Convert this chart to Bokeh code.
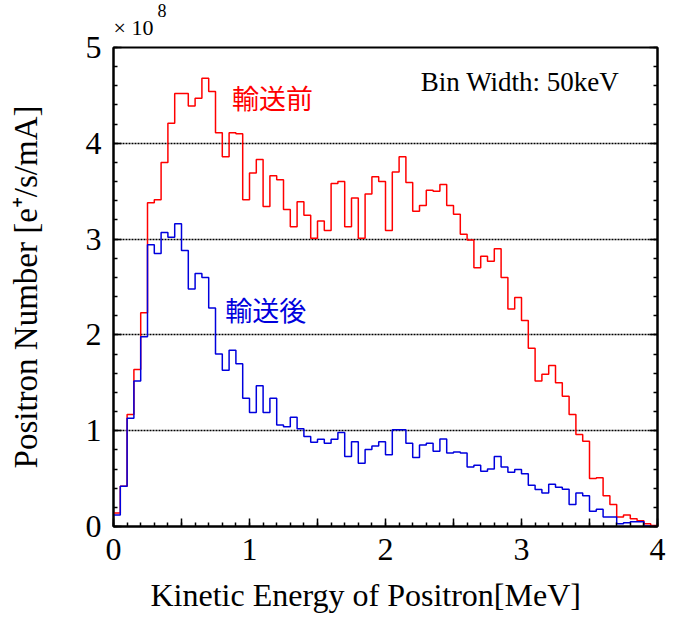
import numpy as np
from bokeh.plotting import figure
from bokeh.models import Range1d, FixedTicker, LinearAxis, Label, Title, CustomJSTickFormatter
from bokeh.embed import file_html
from bokeh.resources import INLINE

BIN_WIDTH = 0.05  # MeV

before_transport = [
    0.14, 0.42, 1.17, 1.64, 2.23, 3.38, 3.41, 3.80, 4.21, 4.52,
    4.52, 4.39, 4.47, 4.68, 4.54, 4.11, 3.86, 4.11, 4.10, 3.41,
    3.69, 3.83, 3.34, 3.66, 3.62, 3.31, 3.13, 3.39, 3.25, 3.01,
    3.19, 3.09, 3.58, 3.60, 3.13, 3.43, 3.01, 3.47, 3.65, 3.60,
    3.09, 3.70, 3.86, 3.59, 3.29, 3.35, 3.51, 3.50, 3.57, 3.35,
    3.26, 3.05, 2.99, 2.70, 2.82, 2.77, 2.90, 2.60, 2.27, 2.39,
    2.15, 1.86, 1.52, 1.59, 1.68, 1.50, 1.36, 1.17, 0.96, 0.89,
    0.50, 0.51, 0.32, 0.23, 0.10, 0.12, 0.08, 0.06, 0.03, 0.01,
]

after_transport = [
    0.12, 0.42, 1.13, 1.52, 1.98, 2.94, 2.85, 3.07, 3.02, 3.16,
    2.88, 2.48, 2.64, 2.60, 2.28, 1.80, 1.63, 1.84, 1.70, 1.34,
    1.19, 1.47, 1.19, 1.34, 1.06, 1.04, 1.14, 1.02, 0.94, 0.88,
    0.91, 0.87, 0.91, 0.98, 0.73, 0.885, 0.66, 0.805, 0.84, 0.885,
    0.75, 1.01, 1.01, 0.87, 0.72, 0.85, 0.87, 0.785, 0.913, 0.767,
    0.778, 0.767, 0.62, 0.64, 0.576, 0.60, 0.73, 0.62, 0.566, 0.594,
    0.55, 0.43, 0.385, 0.35, 0.44, 0.41, 0.39, 0.23, 0.35, 0.32,
    0.16, 0.18, 0.10, 0.10, 0.03, 0.04, 0.05, 0.05, 0.005, 0.0,
]

x_major_ticks = [0, 0.5, 1, 1.5, 2, 2.5, 3, 3.5, 4]
y_major_ticks = [0, 1, 2, 3, 4, 5]

SERIF = "Liberation Serif"
CJK = "Noto Sans CJK JP"

p = figure(width=673, height=626, output_backend="svg", toolbar_location=None,
           x_range=Range1d(0, 4), y_range=Range1d(0, 5),
           min_border_left=113, min_border_right=16, min_border_top=47, min_border_bottom=100,
           background_fill_color="white", border_fill_color="white")

p.outline_line_color = "black"
p.outline_line_width = 2

x_minor = [round(0.1 * i, 2) for i in range(41)]
y_minor = [round(0.2 * i, 2) for i in range(26)]

p.xaxis.ticker = FixedTicker(ticks=x_major_ticks, minor_ticks=x_minor)
p.xaxis.formatter = CustomJSTickFormatter(code="return (Math.abs(tick - Math.round(tick)) < 1e-6) ? Math.round(tick).toString() : '';")
p.yaxis.ticker = FixedTicker(ticks=y_major_ticks, minor_ticks=y_minor)

for ax in (p.xaxis, p.yaxis):
    ax.axis_line_width = 2
    ax.axis_line_color = "black"
    ax.major_tick_in = 8
    ax.major_tick_out = 0
    ax.minor_tick_in = 4
    ax.minor_tick_out = 0
    ax.major_tick_line_width = 1.5
    ax.minor_tick_line_width = 1.5
    ax.major_label_text_font = SERIF
    ax.major_label_text_font_size = "32px"
    ax.major_label_text_color = "black"
    ax.axis_label_text_font = SERIF
    ax.axis_label_text_font_style = "normal"
    ax.axis_label_text_color = "black"

p.xaxis.major_label_standoff = 12

p.yaxis.major_label_standoff = 12
p.yaxis.axis_label = "Positron Number [e\u207a/s/mA]"
p.yaxis.axis_label_text_font_size = "33px"
p.yaxis.axis_label_standoff = 39

right = LinearAxis(ticker=FixedTicker(ticks=y_major_ticks, minor_ticks=y_minor),
                   formatter=CustomJSTickFormatter(code="return '';"))
right.axis_line_width = 2
right.major_tick_in = 8
right.major_tick_out = 0
right.minor_tick_in = 4
right.minor_tick_out = 0
right.major_tick_line_width = 1.5
right.minor_tick_line_width = 1.5
right.major_label_standoff = 0
p.add_layout(right, "right")

p.xgrid.visible = False
p.ygrid.ticker = FixedTicker(ticks=[1, 2, 3, 4])
p.ygrid.grid_line_color = "black"
p.ygrid.grid_line_dash = "2 1"
p.ygrid.grid_line_width = 1.5

edges = np.arange(len(before_transport) + 1) * BIN_WIDTH
red_y = before_transport + [before_transport[-1]]
blue_y = after_transport + [after_transport[-1]]

p.step(x=edges, y=red_y, mode="after", line_color="#ff0000", line_width=1.5)
p.step(x=edges, y=blue_y, mode="after", line_color="#0000dd", line_width=1.5)

p.add_layout(Label(x=1.17, y=4.48, text="輸送前", text_font=CJK, text_font_size="27px",
                   text_color="#ff0000", text_align="center", text_baseline="middle"))
p.add_layout(Label(x=1.12, y=2.26, text="輸送後", text_font=CJK, text_font_size="27px",
                   text_color="#0000dd", text_align="center", text_baseline="middle"))
p.add_layout(Label(x=2.26, y=4.64, text="Bin Width: 50keV", text_font=SERIF,
                   text_font_size="27px", text_color="black", text_align="left",
                   text_baseline="alphabetic"))

# x-axis title, placed below the axis
p.add_layout(Title(text="Kinetic Energy of Positron[MeV]", align="left", offset=37,
                   text_font=SERIF, text_font_size="32px", text_font_style="normal",
                   text_color="black", standoff=24), "below")

# exponent marker above the frame: "x10" with a raised "8"
p.add_layout(Title(text="\u00d7 10", align="left", offset=0,
                   text_font=SERIF, text_font_size="22px", text_font_style="normal",
                   text_color="black", standoff=16), "above")
p.add_layout(Title(text="8", align="left", offset=44,
                   text_font=SERIF, text_font_size="18px", text_font_style="normal",
                   text_color="black", standoff=-24), "above")

open("out.html", "w").write(file_html(p, INLINE))
